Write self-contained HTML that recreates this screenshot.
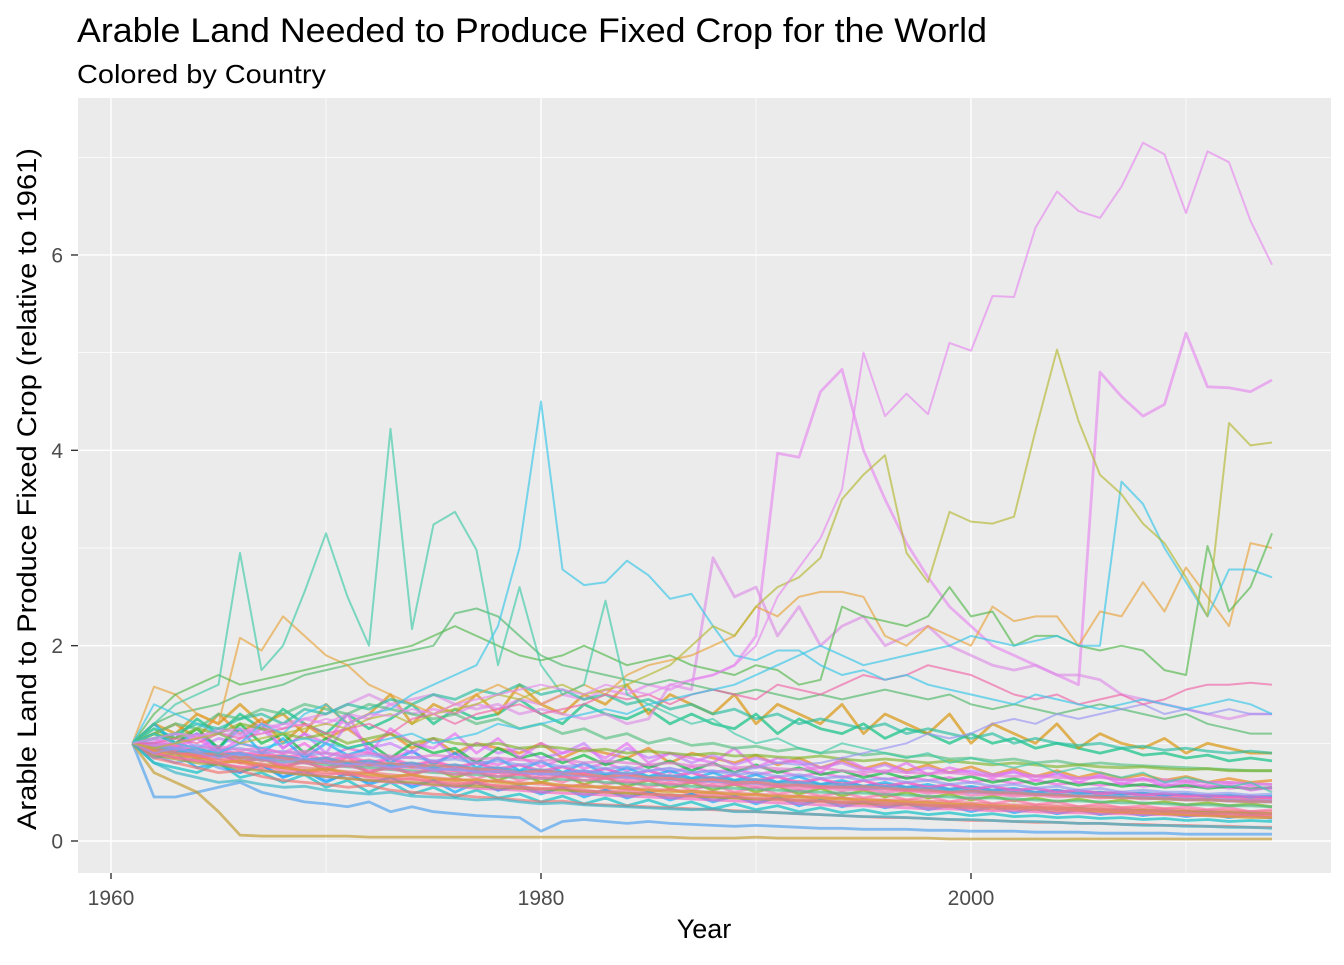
<!DOCTYPE html>
<html><head><meta charset="utf-8">
<style>
body{margin:0;background:#fff;font-family:"Liberation Sans",Arial,sans-serif;}
svg text{font-family:"Liberation Sans",Arial,sans-serif;}
</style></head>
<body>
<svg id="chart" width="1344" height="960" xmlns="http://www.w3.org/2000/svg">
<text x="77" y="42" font-size="34" textLength="910" lengthAdjust="spacingAndGlyphs" fill="#000">Arable Land Needed to Produce Fixed Crop for the World</text>
<text x="77" y="83" font-size="26" textLength="249" lengthAdjust="spacingAndGlyphs" fill="#000">Colored by Country</text>
<rect x="78" y="98" width="1253" height="775" fill="#EBEBEB"/>
<g id="grid"></g>
<g id="lines"></g>
<g id="axes"></g>
<text x="704" y="938" font-size="27" text-anchor="middle" fill="#000">Year</text>
<text transform="translate(36,489) rotate(-90)" font-size="27" textLength="682" lengthAdjust="spacingAndGlyphs" text-anchor="middle" fill="#000">Arable Land to Produce Fixed Crop (relative to 1961)</text>
</svg>
<script>
const years = [];
for (let y = 1961; y <= 2014; y++) years.push(y);
const xTicks = [1960, 1980, 2000];
const xMinor = [1970, 1990, 2010];
const yTicks = [0, 2, 4, 6];
const yMinor = [1, 3, 5, 7];

const seriesColors = ["#E68AF0","#B5B832","#35C6E8","#3DCBA8","#35C6E8","#F066A8","#53B94B","#E8A33A","#9A95F5","#4FB86A","#F27D6E","#2FB5C8","#C39B2A","#E57BD5","#4BA0F0","#7FB52E","#F2739A","#26BFA0","#D5A030","#8C9CF0","#F0706E","#56C080","#33B8E0","#F06EB0","#A6A32A","#6CAAF5","#F07A80","#4ABF8C","#DD8FE8","#F8766D","#FF6FB0","#F565C0",
"#E68AF0","#FF6FA8","#E76BF3","#00A9FF","#FF61C3","#F8766D","#00BA38","#00BFC4","#C77CFF","#FF6C91","#00B0F6","#E68613","#7CAE00","#FD61D1","#619CFF","#F564E3","#FF689F","#D89000","#00BF7D"];

const s0 = [1,1.05,1.1,1.08,1.12,1.15,1.1,1.2,1.18,1.25,1.2,1.3,1.28,1.35,1.3,1.4,1.45,1.5,1.55,1.6,1.55,1.5,1.6,1.55,1.5,1.6,1.65,1.7,1.8,2.0,2.5,2.8,3.1,3.6,5.0,4.35,4.58,4.37,5.1,5.02,5.58,5.57,6.28,6.65,6.45,6.38,6.7,7.15,7.03,6.43,7.06,6.95,6.35,5.9];
const s1 = [1,0.95,1.0,1.05,1.1,1.0,1.05,1.1,1.15,1.2,1.15,1.25,1.3,1.2,1.3,1.35,1.4,1.5,1.45,1.55,1.6,1.5,1.55,1.6,1.7,1.8,2.0,2.2,2.1,2.4,2.6,2.7,2.9,3.5,3.75,3.95,2.95,2.65,3.37,3.27,3.25,3.32,4.2,5.03,4.3,3.75,3.55,3.25,3.05,2.7,2.3,4.28,4.05,4.08];
const s2 = [1,1.4,1.3,1.2,1.1,1.0,1.2,1.1,1.3,1.4,1.2,1.3,1.35,1.5,1.6,1.7,1.8,2.2,3.0,4.5,2.78,2.62,2.65,2.87,2.72,2.48,2.53,2.2,1.9,1.85,1.95,1.95,1.8,1.7,1.75,1.65,1.7,1.6,1.55,1.5,1.45,1.4,1.5,1.45,1.4,1.35,1.4,1.45,1.4,1.35,1.4,1.45,1.4,1.3];
const s3 = [1,1.2,1.4,1.5,1.6,2.95,1.75,2.0,2.55,3.15,2.5,2.0,4.22,2.17,3.24,3.37,2.98,1.8,2.6,1.8,1.5,1.6,2.46,1.5,1.4,1.3,1.2,1.25,1.1,1.0,1.05,0.95,0.9,1.0,0.95,0.9,0.85,0.9,0.8,0.85,0.8,0.75,0.8,0.7,0.75,0.7,0.65,0.7,0.6,0.65,0.6,0.55,0.6,0.5];
const s4 = [1,1.1,1.0,0.95,0.9,1.0,0.95,1.0,1.05,1.0,0.95,1.0,1.05,1.1,1.0,1.05,1.1,1.2,1.15,1.2,1.25,1.3,1.35,1.3,1.4,1.45,1.5,1.55,1.6,1.7,1.8,1.9,2.0,1.9,1.8,1.85,1.9,1.95,2.0,2.1,2.05,2.0,2.05,2.1,2.0,2.0,3.68,3.45,3.0,2.65,2.3,2.78,2.78,2.7];
const s5 = [1,1.0,1.05,1.0,1.1,1.05,1.1,1.15,1.2,1.1,1.15,1.2,1.1,1.25,1.3,1.2,1.3,1.35,1.4,1.3,1.35,1.4,1.5,1.45,1.5,1.4,1.5,1.55,1.5,1.45,1.6,1.55,1.5,1.6,1.7,1.65,1.7,1.8,1.75,1.7,1.6,1.5,1.45,1.5,1.4,1.45,1.5,1.4,1.45,1.55,1.6,1.6,1.62,1.6];
const s6 = [1,1.3,1.5,1.6,1.7,1.6,1.65,1.7,1.75,1.8,1.85,1.9,1.95,2.0,2.1,2.2,2.1,2.0,1.9,1.85,1.9,2.0,1.9,1.8,1.85,1.9,1.8,1.75,1.7,1.8,1.75,1.6,1.65,2.4,2.3,2.25,2.2,2.3,2.6,2.3,2.35,2.0,2.1,2.1,2.0,1.95,2.0,1.95,1.75,1.7,3.02,2.35,2.6,3.15];
const s7 = [1,1.58,1.5,1.3,1.2,2.08,1.95,2.3,2.1,1.9,1.8,1.6,1.5,1.4,1.3,1.4,1.5,1.6,1.5,1.4,1.5,1.6,1.5,1.7,1.8,1.85,1.9,2.0,2.1,2.4,2.3,2.5,2.55,2.55,2.5,2.1,2.0,2.2,2.1,2.0,2.4,2.25,2.3,2.3,2.0,2.35,2.3,2.65,2.35,2.8,2.5,2.2,3.05,3.0];
const s8 = [1,0.9,0.95,0.9,0.85,0.9,0.85,0.8,0.85,0.8,0.78,0.8,0.75,0.78,0.72,0.75,0.7,0.72,0.7,0.68,0.7,0.72,0.7,0.68,0.72,0.75,0.7,0.72,0.7,0.75,0.8,0.78,0.8,0.85,0.9,0.95,1.0,1.1,1.05,1.1,1.2,1.25,1.2,1.3,1.25,1.3,1.35,1.4,1.3,1.35,1.3,1.35,1.3,1.3];
const s9 = [1,1.2,1.3,1.35,1.4,1.5,1.55,1.6,1.7,1.75,1.8,1.85,1.9,1.95,2.0,2.33,2.38,2.3,2.1,1.9,1.8,1.75,1.7,1.65,1.6,1.65,1.6,1.55,1.5,1.55,1.5,1.45,1.5,1.45,1.5,1.55,1.5,1.45,1.5,1.4,1.35,1.4,1.35,1.3,1.35,1.4,1.35,1.3,1.25,1.3,1.2,1.15,1.1,1.1];
const s10 = [1,0.95,0.9,0.88,0.9,0.85,0.88,0.85,0.82,0.8,0.82,0.78,0.8,0.76,0.78,0.75,0.74,0.72,0.7,0.72,0.7,0.68,0.66,0.68,0.65,0.64,0.62,0.63,0.6,0.6,0.58,0.57,0.56,0.55,0.56,0.54,0.53,0.52,0.5,0.51,0.5,0.49,0.48,0.47,0.46,0.45,0.44,0.44,0.43,0.42,0.42,0.41,0.4,0.4];
const s11 = [1,0.8,0.7,0.65,0.6,0.62,0.58,0.55,0.56,0.52,0.5,0.48,0.5,0.46,0.45,0.44,0.42,0.43,0.4,0.38,0.39,0.37,0.36,0.35,0.34,0.33,0.32,0.33,0.3,0.3,0.29,0.28,0.27,0.26,0.25,0.25,0.24,0.23,0.22,0.22,0.21,0.2,0.2,0.19,0.18,0.18,0.17,0.16,0.16,0.15,0.15,0.14,0.14,0.13];
const s12 = [1,0.7,0.6,0.5,0.3,0.06,0.05,0.05,0.05,0.05,0.05,0.04,0.04,0.04,0.04,0.04,0.04,0.04,0.04,0.04,0.04,0.04,0.04,0.04,0.04,0.04,0.03,0.03,0.03,0.04,0.03,0.03,0.03,0.03,0.03,0.03,0.03,0.03,0.02,0.02,0.02,0.02,0.02,0.02,0.02,0.02,0.02,0.02,0.02,0.02,0.02,0.02,0.02,0.02];
const s13 = [1,0.98,1.0,0.95,0.97,0.93,0.95,0.9,0.92,0.9,0.88,0.9,0.87,0.85,0.88,0.86,0.84,0.85,0.83,0.82,0.84,0.8,0.82,0.8,0.78,0.8,0.77,0.78,0.75,0.76,0.74,0.73,0.75,0.72,0.7,0.72,0.7,0.69,0.7,0.68,0.67,0.66,0.67,0.65,0.64,0.65,0.63,0.62,0.63,0.61,0.6,0.6,0.59,0.58];
const s14 = [1,0.45,0.45,0.5,0.55,0.6,0.5,0.45,0.4,0.38,0.35,0.4,0.3,0.35,0.3,0.28,0.26,0.25,0.24,0.1,0.2,0.22,0.2,0.18,0.2,0.18,0.17,0.16,0.15,0.16,0.15,0.14,0.13,0.13,0.12,0.12,0.12,0.11,0.11,0.1,0.1,0.1,0.09,0.09,0.09,0.08,0.08,0.08,0.08,0.07,0.07,0.07,0.07,0.07];
const s15 = [1,1.1,1.05,1.15,1.1,1.2,1.15,1.1,1.05,1.1,1.0,1.05,1.1,1.0,1.05,1.0,0.98,1.0,0.95,0.97,0.95,0.92,0.94,0.9,0.92,0.9,0.88,0.9,0.87,0.88,0.86,0.85,0.87,0.84,0.82,0.84,0.82,0.8,0.82,0.8,0.78,0.8,0.78,0.76,0.78,0.76,0.75,0.76,0.74,0.73,0.74,0.72,0.72,0.72];
const s16 = [1,0.9,0.85,0.82,0.8,0.75,0.78,0.72,0.7,0.68,0.7,0.65,0.62,0.64,0.6,0.58,0.6,0.56,0.55,0.53,0.55,0.52,0.5,0.52,0.48,0.47,0.46,0.47,0.45,0.44,0.43,0.42,0.41,0.4,0.4,0.39,0.38,0.37,0.36,0.36,0.35,0.34,0.34,0.33,0.32,0.32,0.31,0.3,0.3,0.29,0.28,0.28,0.27,0.27];
const s17 = [1,1.05,1.1,1.2,1.15,1.25,1.3,1.2,1.35,1.3,1.4,1.35,1.45,1.4,1.5,1.45,1.55,1.5,1.6,1.5,1.55,1.45,1.5,1.4,1.45,1.35,1.4,1.3,1.35,1.25,1.3,1.2,1.25,1.2,1.15,1.2,1.1,1.15,1.1,1.05,1.1,1.0,1.05,1.0,0.98,1.0,0.95,0.97,0.93,0.95,0.92,0.9,0.92,0.9];
const s18 = [1,0.92,0.88,0.85,0.8,0.82,0.78,0.75,0.72,0.74,0.7,0.68,0.66,0.68,0.64,0.62,0.63,0.6,0.58,0.6,0.57,0.55,0.56,0.53,0.52,0.5,0.51,0.49,0.48,0.47,0.46,0.45,0.44,0.43,0.42,0.41,0.4,0.39,0.38,0.37,0.36,0.35,0.34,0.33,0.32,0.31,0.3,0.29,0.28,0.27,0.26,0.25,0.24,0.24];
const s19 = [1,1.0,0.95,0.98,0.93,0.95,0.9,0.92,0.88,0.9,0.86,0.88,0.84,0.86,0.82,0.84,0.8,0.82,0.78,0.8,0.76,0.78,0.74,0.76,0.72,0.74,0.7,0.72,0.68,0.7,0.66,0.68,0.64,0.66,0.62,0.64,0.6,0.62,0.58,0.6,0.56,0.58,0.54,0.56,0.52,0.54,0.5,0.52,0.5,0.5,0.48,0.49,0.47,0.48];
const s20 = [1,0.85,0.8,0.75,0.7,0.72,0.66,0.62,0.6,0.58,0.55,0.57,0.52,0.5,0.48,0.47,0.45,0.44,0.42,0.4,0.41,0.38,0.37,0.36,0.35,0.34,0.33,0.32,0.31,0.3,0.29,0.28,0.27,0.26,0.25,0.24,0.24,0.23,0.22,0.21,0.21,0.2,0.19,0.19,0.18,0.18,0.17,0.17,0.16,0.16,0.15,0.15,0.14,0.14];
const s21 = [1,1.1,1.2,1.15,1.3,1.25,1.35,1.3,1.4,1.35,1.3,1.4,1.35,1.3,1.25,1.3,1.2,1.25,1.15,1.2,1.1,1.15,1.05,1.1,1.0,1.05,0.98,1.0,0.95,0.97,0.92,0.95,0.9,0.92,0.88,0.9,0.86,0.88,0.84,0.85,0.82,0.84,0.8,0.82,0.78,0.8,0.78,0.77,0.76,0.75,0.74,0.73,0.72,0.72];
const s22 = [1,0.95,0.9,0.95,0.88,0.9,0.85,0.87,0.83,0.85,0.8,0.82,0.78,0.8,0.76,0.78,0.74,0.75,0.72,0.73,0.7,0.72,0.68,0.7,0.66,0.67,0.64,0.65,0.62,0.63,0.6,0.6,0.58,0.58,0.56,0.56,0.54,0.54,0.52,0.52,0.5,0.5,0.48,0.48,0.46,0.46,0.45,0.44,0.43,0.42,0.42,0.41,0.4,0.4];
const s23 = [1,0.9,0.92,0.86,0.88,0.82,0.84,0.78,0.8,0.75,0.77,0.72,0.74,0.7,0.72,0.68,0.7,0.66,0.68,0.64,0.66,0.62,0.64,0.6,0.62,0.58,0.6,0.56,0.58,0.55,0.56,0.53,0.55,0.52,0.53,0.5,0.52,0.49,0.5,0.47,0.48,0.46,0.47,0.45,0.46,0.44,0.45,0.43,0.44,0.42,0.43,0.41,0.42,0.4];
const s24 = [1,0.88,0.84,0.8,0.78,0.74,0.72,0.7,0.68,0.66,0.64,0.62,0.61,0.6,0.58,0.57,0.56,0.55,0.54,0.53,0.52,0.51,0.5,0.49,0.48,0.47,0.46,0.45,0.44,0.43,0.43,0.42,0.41,0.4,0.39,0.39,0.38,0.37,0.36,0.36,0.35,0.34,0.34,0.33,0.33,0.32,0.31,0.31,0.3,0.3,0.29,0.29,0.28,0.28];
const s25 = [1,0.97,0.94,0.92,0.9,0.88,0.86,0.84,0.83,0.81,0.8,0.78,0.77,0.76,0.74,0.73,0.72,0.71,0.7,0.69,0.68,0.67,0.66,0.65,0.64,0.63,0.62,0.61,0.6,0.59,0.58,0.57,0.56,0.55,0.54,0.54,0.53,0.52,0.51,0.5,0.5,0.49,0.48,0.47,0.47,0.46,0.45,0.45,0.44,0.43,0.43,0.42,0.42,0.41];
const s26 = [1,0.93,0.9,0.87,0.84,0.82,0.79,0.77,0.75,0.73,0.71,0.7,0.68,0.66,0.65,0.63,0.62,0.61,0.6,0.58,0.57,0.56,0.55,0.54,0.53,0.52,0.51,0.5,0.49,0.48,0.47,0.46,0.45,0.44,0.43,0.42,0.42,0.41,0.4,0.39,0.38,0.37,0.37,0.36,0.35,0.35,0.34,0.33,0.33,0.32,0.31,0.31,0.3,0.3];
const s27 = [1,0.96,0.92,0.9,0.87,0.85,0.83,0.81,0.8,0.78,0.76,0.75,0.73,0.72,0.7,0.69,0.68,0.66,0.65,0.64,0.63,0.62,0.6,0.59,0.58,0.57,0.56,0.55,0.54,0.53,0.52,0.51,0.5,0.49,0.49,0.48,0.47,0.46,0.45,0.44,0.44,0.43,0.42,0.41,0.41,0.4,0.39,0.39,0.38,0.37,0.37,0.36,0.36,0.35];
const s28 = [1,1.02,1.0,1.05,1.1,1.08,1.15,1.2,1.25,1.3,1.4,1.5,1.4,1.45,1.5,1.4,1.35,1.4,1.3,1.35,1.3,1.25,1.3,1.2,1.25,1.6,1.55,2.9,2.5,2.6,2.1,2.4,2.0,2.2,2.3,2.0,2.1,2.2,2.0,1.9,1.8,1.75,1.8,1.7,1.7,1.65,1.5,1.45,1.4,1.35,1.3,1.25,1.3,1.3];
const s29 = [1,0.94,0.9,0.86,0.83,0.8,0.77,0.75,0.72,0.7,0.68,0.66,0.65,0.63,0.61,0.6,0.58,0.57,0.55,0.54,0.53,0.51,0.5,0.49,0.48,0.47,0.46,0.45,0.44,0.43,0.42,0.41,0.4,0.39,0.38,0.37,0.37,0.36,0.35,0.34,0.33,0.33,0.32,0.31,0.31,0.3,0.29,0.29,0.28,0.27,0.27,0.26,0.26,0.25];
const s30 = [1,0.95,0.93,0.9,0.88,0.86,0.85,0.83,0.82,0.8,0.79,0.77,0.76,0.75,0.73,0.72,0.71,0.7,0.69,0.68,0.67,0.66,0.65,0.64,0.63,0.62,0.61,0.6,0.59,0.58,0.57,0.56,0.55,0.55,0.54,0.53,0.52,0.51,0.51,0.5,0.49,0.48,0.48,0.47,0.46,0.46,0.45,0.44,0.44,0.43,0.42,0.42,0.41,0.41];
const s31 = [1,0.9,0.86,0.82,0.79,0.76,0.73,0.7,0.68,0.66,0.64,0.62,0.6,0.59,0.57,0.56,0.54,0.53,0.52,0.5,0.49,0.48,0.47,0.46,0.45,0.44,0.43,0.42,0.41,0.4,0.39,0.38,0.37,0.36,0.36,0.35,0.34,0.33,0.33,0.32,0.31,0.31,0.3,0.29,0.29,0.28,0.28,0.27,0.27,0.26,0.26,0.25,0.25,0.24];
const s32 = [1,1.05,1.1,1.05,1.15,1.1,1.2,1.15,1.25,1.2,1.3,1.25,1.4,1.3,1.35,1.3,1.4,1.35,1.45,1.4,1.5,1.45,1.55,1.5,1.6,1.55,1.65,1.7,1.8,2.1,3.97,3.93,4.6,4.83,4.0,3.5,3.05,2.7,2.4,2.2,2.0,1.9,1.8,1.7,1.6,4.8,4.55,4.35,4.47,5.2,4.65,4.64,4.6,4.72];
const s33 = [1,0.92,0.98,0.85,0.9,0.8,0.88,0.76,0.82,0.74,0.86,0.7,0.78,0.68,0.75,0.72,0.64,0.7,0.62,0.66,0.6,0.68,0.58,0.62,0.55,0.6,0.52,0.58,0.5,0.55,0.48,0.52,0.46,0.5,0.44,0.48,0.42,0.46,0.4,0.44,0.38,0.42,0.37,0.4,0.35,0.38,0.34,0.36,0.33,0.35,0.32,0.34,0.3,0.32];
const s34 = [1,1.05,0.95,1.1,0.9,1.05,1.2,0.95,1.1,1.0,1.3,0.9,1.15,1.0,0.95,1.1,0.9,1.05,0.85,1.0,0.9,0.95,0.85,1.0,0.8,0.9,0.85,0.8,0.95,0.75,0.85,0.8,0.7,0.85,0.75,0.7,0.8,0.68,0.75,0.7,0.65,0.72,0.62,0.7,0.6,0.68,0.58,0.64,0.56,0.6,0.55,0.58,0.52,0.55];
const s35 = [1,0.85,0.9,0.75,0.8,0.7,0.78,0.65,0.72,0.6,0.7,0.58,0.65,0.55,0.62,0.5,0.6,0.52,0.56,0.48,0.55,0.45,0.52,0.44,0.5,0.42,0.48,0.4,0.46,0.38,0.45,0.36,0.42,0.35,0.4,0.34,0.38,0.32,0.36,0.3,0.35,0.29,0.33,0.28,0.32,0.27,0.3,0.26,0.29,0.25,0.28,0.24,0.27,0.23];
const s36 = [1,0.95,1.0,0.9,0.95,0.88,0.92,0.85,0.9,0.82,0.88,0.8,0.85,0.78,0.82,0.76,0.8,0.74,0.78,0.72,0.76,0.7,0.74,0.68,0.72,0.66,0.7,0.64,0.68,0.62,0.66,0.6,0.64,0.58,0.62,0.56,0.6,0.55,0.58,0.53,0.56,0.52,0.54,0.5,0.52,0.49,0.5,0.47,0.49,0.46,0.47,0.45,0.46,0.44];
const s37 = [1,0.9,0.85,0.88,0.8,0.82,0.75,0.78,0.7,0.74,0.68,0.7,0.65,0.68,0.62,0.64,0.6,0.62,0.58,0.6,0.55,0.58,0.53,0.56,0.5,0.53,0.48,0.5,0.46,0.48,0.44,0.46,0.42,0.44,0.4,0.42,0.39,0.4,0.37,0.38,0.35,0.36,0.34,0.35,0.32,0.33,0.31,0.32,0.3,0.31,0.29,0.3,0.28,0.28];
const s38 = [1,1.1,1.0,1.15,0.95,1.2,1.0,1.1,0.9,1.05,0.95,1.0,0.85,1.0,0.9,0.95,0.8,0.95,0.85,0.9,0.8,0.88,0.78,0.85,0.75,0.82,0.72,0.8,0.7,0.78,0.7,0.75,0.68,0.72,0.65,0.7,0.64,0.68,0.62,0.66,0.6,0.64,0.58,0.62,0.57,0.6,0.56,0.58,0.55,0.57,0.54,0.56,0.53,0.55];
const s39 = [1,0.8,0.75,0.7,0.8,0.65,0.7,0.6,0.68,0.55,0.62,0.5,0.6,0.48,0.55,0.45,0.52,0.44,0.48,0.4,0.46,0.38,0.44,0.36,0.42,0.35,0.4,0.33,0.38,0.32,0.36,0.3,0.34,0.29,0.32,0.28,0.3,0.27,0.29,0.26,0.28,0.25,0.26,0.24,0.25,0.23,0.24,0.22,0.23,0.21,0.22,0.2,0.21,0.2];
const s40 = [1,1.0,1.1,0.95,1.05,1.0,1.15,0.95,1.1,0.9,1.2,0.95,1.0,0.9,1.05,0.85,1.0,0.9,0.95,0.85,0.9,1.0,0.8,0.95,0.85,0.9,0.8,0.88,0.78,0.85,0.8,0.82,0.75,0.8,0.72,0.78,0.7,0.75,0.7,0.72,0.68,0.7,0.66,0.68,0.64,0.66,0.62,0.64,0.6,0.62,0.6,0.6,0.58,0.58];
const s41 = [1,0.96,0.9,0.93,0.86,0.9,0.82,0.86,0.8,0.83,0.77,0.8,0.74,0.78,0.72,0.75,0.7,0.72,0.68,0.7,0.66,0.68,0.64,0.66,0.62,0.64,0.6,0.62,0.58,0.6,0.56,0.58,0.55,0.56,0.53,0.55,0.52,0.53,0.5,0.52,0.49,0.5,0.47,0.49,0.46,0.47,0.45,0.46,0.44,0.45,0.43,0.44,0.42,0.43];
const s42 = [1,1.2,1.0,1.1,0.95,1.15,0.9,1.05,0.85,1.0,0.88,0.95,0.8,0.92,0.78,0.9,0.75,0.85,0.72,0.82,0.7,0.8,0.68,0.75,0.66,0.72,0.64,0.7,0.62,0.68,0.6,0.66,0.58,0.62,0.56,0.6,0.55,0.58,0.53,0.56,0.52,0.54,0.5,0.52,0.49,0.5,0.48,0.49,0.47,0.48,0.46,0.47,0.45,0.46];
const s43 = [1,1.1,1.2,1.05,1.3,1.1,1.25,1.0,1.2,1.05,1.15,1.0,1.1,0.95,1.05,0.9,1.0,0.95,0.9,1.0,0.85,0.95,0.9,0.85,0.95,0.8,0.9,0.85,0.8,0.88,0.78,0.85,0.75,0.82,0.74,0.8,0.72,0.78,0.7,0.76,0.68,0.74,0.66,0.72,0.65,0.7,0.64,0.68,0.62,0.66,0.6,0.64,0.6,0.62];
const s44 = [1,0.9,0.95,0.85,0.9,0.8,0.85,0.75,0.82,0.72,0.8,0.7,0.76,0.68,0.74,0.65,0.72,0.62,0.7,0.6,0.68,0.58,0.65,0.56,0.62,0.54,0.6,0.52,0.58,0.5,0.56,0.48,0.54,0.46,0.52,0.45,0.5,0.44,0.48,0.42,0.46,0.41,0.44,0.4,0.43,0.39,0.42,0.38,0.4,0.37,0.39,0.36,0.38,0.35];
const s45 = [1,0.93,0.97,0.88,0.94,0.85,0.9,0.83,0.88,0.8,0.86,0.78,0.84,0.76,0.82,0.74,0.8,0.72,0.78,0.7,0.76,0.68,0.74,0.66,0.72,0.64,0.7,0.62,0.68,0.6,0.66,0.58,0.64,0.56,0.62,0.55,0.6,0.54,0.58,0.52,0.56,0.51,0.54,0.5,0.52,0.48,0.5,0.47,0.48,0.46,0.47,0.45,0.46,0.44];
const s46 = [1,0.88,0.8,0.85,0.75,0.7,0.78,0.66,0.72,0.62,0.68,0.6,0.65,0.57,0.62,0.55,0.6,0.52,0.58,0.5,0.55,0.48,0.52,0.46,0.5,0.44,0.48,0.42,0.46,0.4,0.44,0.39,0.42,0.38,0.4,0.36,0.38,0.35,0.37,0.34,0.36,0.33,0.35,0.32,0.34,0.31,0.33,0.3,0.32,0.29,0.31,0.28,0.3,0.27];
const s47 = [1,1.0,0.95,1.05,0.9,1.0,0.95,0.9,1.0,0.85,0.95,0.9,0.85,0.92,0.8,0.9,0.82,0.78,0.86,0.76,0.84,0.74,0.8,0.72,0.78,0.7,0.76,0.7,0.74,0.68,0.72,0.66,0.7,0.65,0.68,0.63,0.66,0.62,0.65,0.6,0.63,0.59,0.62,0.58,0.6,0.57,0.59,0.56,0.58,0.55,0.57,0.54,0.56,0.53];
const s48 = [1,0.97,0.92,0.95,0.89,0.91,0.86,0.88,0.83,0.85,0.8,0.83,0.78,0.8,0.75,0.78,0.73,0.75,0.71,0.73,0.69,0.71,0.67,0.69,0.65,0.67,0.63,0.65,0.61,0.63,0.6,0.61,0.58,0.6,0.56,0.58,0.55,0.56,0.53,0.55,0.52,0.53,0.5,0.52,0.49,0.5,0.48,0.49,0.46,0.48,0.45,0.46,0.44,0.45];
const s49 = [1,1.2,1.1,1.3,1.2,1.4,1.2,1.3,1.1,1.4,1.2,1.3,1.5,1.2,1.4,1.3,1.5,1.3,1.6,1.4,1.3,1.5,1.4,1.6,1.3,1.5,1.4,1.3,1.5,1.2,1.4,1.3,1.2,1.4,1.1,1.3,1.2,1.1,1.3,1.0,1.2,1.1,1.0,1.2,0.95,1.1,1.0,0.95,1.05,0.9,1.0,0.95,0.9,0.9];
const s50 = [1,1.15,1.05,1.25,1.1,1.3,1.15,1.35,1.2,1.1,1.3,1.15,1.25,1.4,1.2,1.35,1.25,1.3,1.45,1.3,1.2,1.4,1.3,1.25,1.35,1.2,1.3,1.2,1.15,1.3,1.1,1.25,1.15,1.1,1.2,1.05,1.15,1.1,1.0,1.1,1.0,1.05,0.95,1.0,0.95,0.9,0.95,0.88,0.9,0.85,0.88,0.82,0.85,0.82];
const allSeries = [s0,s1,s2,s3,s4,s5,s6,s7,s8,s9,s10,s11,s12,s13,s14,s15,s16,s17,s18,s19,s20,s21,s22,s23,s24,s25,s26,s27,s28,s29,s30,s31,s32,s33,s34,s35,s36,s37,s38,s39,s40,s41,s42,s43,s44,s45,s46,s47,s48,s49,s50];

const X0 = 78, X1 = 1331, Y0 = 98, Y1 = 873;
function xScale(yr){ return 111 + (yr - 1960) * 21.5; }
function yScale(v){ return 841 - v * 97.67; }
const NS = "http://www.w3.org/2000/svg";
const grid = document.getElementById('grid');
const lines = document.getElementById('lines');
const axes = document.getElementById('axes');

yMinor.forEach(v=>{
  const l = document.createElementNS(NS,'line');
  
  
  l.setAttribute('x1',X0);l.setAttribute('x2',X1);l.setAttribute('y1',yScale(v));l.setAttribute('y2',yScale(v));
  l.setAttribute('stroke','#fff');l.setAttribute('stroke-width','0.7');grid.appendChild(l);
});
xMinor.forEach(v=>{
  const l = document.createElementNS(NS,'line');
  
  
  l.setAttribute('x1',xScale(v));l.setAttribute('x2',xScale(v));l.setAttribute('y1',Y0);l.setAttribute('y2',Y1);
  l.setAttribute('stroke','#fff');l.setAttribute('stroke-width','0.7');grid.appendChild(l);
});
yTicks.forEach(v=>{
  const l = document.createElementNS(NS,'line');
  
  
  l.setAttribute('x1',X0);l.setAttribute('x2',X1);l.setAttribute('y1',yScale(v));l.setAttribute('y2',yScale(v));
  l.setAttribute('stroke','#fff');l.setAttribute('stroke-width','1.4');grid.appendChild(l);
  const t = document.createElementNS(NS,'text');
  
  
  t.setAttribute('x',63);t.setAttribute('y',yScale(v)+7.5);t.setAttribute('text-anchor','end');
  t.setAttribute('font-size','21');t.setAttribute('fill','#4D4D4D');t.textContent=v;axes.appendChild(t);
  const k = document.createElementNS(NS,'line');
  
  
  k.setAttribute('x1',71);k.setAttribute('x2',X0);k.setAttribute('y1',yScale(v));k.setAttribute('y2',yScale(v));
  k.setAttribute('stroke','#333');k.setAttribute('stroke-width','1.4');axes.appendChild(k);
});
xTicks.forEach(v=>{
  const l = document.createElementNS(NS,'line');
  
  
  l.setAttribute('x1',xScale(v));l.setAttribute('x2',xScale(v));l.setAttribute('y1',Y0);l.setAttribute('y2',Y1);
  l.setAttribute('stroke','#fff');l.setAttribute('stroke-width','1.4');grid.appendChild(l);
  const t = document.createElementNS(NS,'text');
  
  
  t.setAttribute('x',xScale(v));t.setAttribute('y',905);t.setAttribute('text-anchor','middle');
  t.setAttribute('font-size','21');t.setAttribute('fill','#4D4D4D');t.textContent=v;axes.appendChild(t);
  const k = document.createElementNS(NS,'line');
  
  
  k.setAttribute('x1',xScale(v));k.setAttribute('x2',xScale(v));k.setAttribute('y1',Y1);k.setAttribute('y2',Y1+6);
  k.setAttribute('stroke','#333');k.setAttribute('stroke-width','1.4');axes.appendChild(k);
});

const order = [];
for (let i = allSeries.length - 1; i >= 0; i--) order.push(i);
order.forEach(i=>{
  const vals = allSeries[i];
  const d = vals.map((v,j)=>(j?'L':'M')+xScale(years[j]).toFixed(1)+','+yScale(v).toFixed(1)).join('');
  const p = document.createElementNS(NS,'path');
  
  
  p.setAttribute('d',d);p.setAttribute('fill','none');
  p.setAttribute('stroke',seriesColors[i % seriesColors.length]);
  p.setAttribute('stroke-width', i >= 10 ? '2.8' : '2');
  p.setAttribute('stroke-opacity','0.65');p.setAttribute('stroke-linejoin','round');
  lines.appendChild(p);
});
</script>
</body></html>
